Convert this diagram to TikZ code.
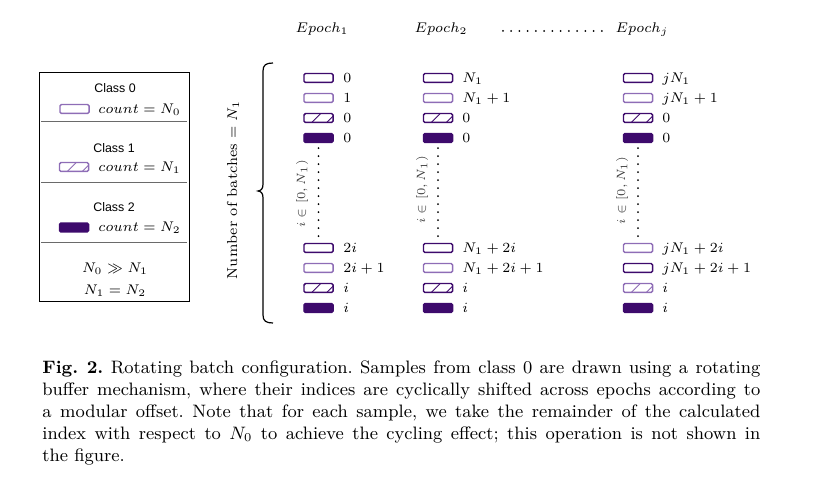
\documentclass[tikz,border=0pt]{standalone}
\usepackage{fontspec}
\newfontfamily\lsans{Liberation Sans}
\definecolor{dpurple}{HTML}{3D0A6C}
\definecolor{lpurple}{HTML}{8E6DB6}
\definecolor{sepgray}{HTML}{6A6A6A}
\newcommand\hatchlines[1]{\foreach \k in {-3.5,4,11.5}{\draw[#1, line width=0.45pt] ([xshift=\k pt]path picture bounding box.south west) -- ++(5.5pt,5.5pt);}}
\newcommand\dfont{\fontsize{7.2}{8.6}\selectfont}
\begin{document}
\begin{tikzpicture}[x=0.5pt,y=-0.5pt,
  sbox/.style={draw, rounded corners=0.7pt, line width=0.65pt, minimum width=14.6pt, minimum height=4.4pt, inner sep=0pt, fill=white},
  c0d/.style={sbox, draw=dpurple},
  c0l/.style={sbox, draw=lpurple},
  c1d/.style={sbox, draw=dpurple, path picture={\hatchlines{dpurple}}},
  c1l/.style={sbox, draw=lpurple, path picture={\hatchlines{lpurple}}},
  c2/.style={sbox, draw=dpurple, fill=dpurple},
  lab/.style={anchor=base west, inner sep=0pt, font=\dfont},
  ctr/.style={anchor=base, inner sep=0pt, font=\dfont},
  cls/.style={anchor=base, inner sep=0pt, font=\lsans\fontsize{6.2}{7.5}\selectfont},
  rng/.style={inner sep=0pt, rotate=90, text=black!75, font=\fontsize{6.2}{7}\selectfont},
  dotline/.style={line width=1pt, line cap=round, dash pattern=on 0pt off 4pt},
  sepline/.style={draw=sepgray, line width=0.6pt}]
\useasboundingbox (0,0) rectangle (816,480);

% legend box
\draw[line width=0.5pt] (39,73) rectangle (189,302);
\draw[sepline] (41,121.5) -- (187,121.5);
\draw[sepline] (41,182.5) -- (187,182.5);
\draw[sepline] (41,242.5) -- (187,242.5);
\node[cls] (lc0) at (115,92.5) {Class 0};
\node[c0l] (lr0) at (74.5,109) {};
\node[lab] (lt0) at (98,113.5) {$count = N_0$};
\node[cls] (lc1) at (114,152.5) {Class 1};
\node[c1l] (lr1) at (74,167) {};
\node[lab] (lt1) at (98,171.5) {$count = N_1$};
\node[cls] (lc2) at (114,211.5) {Class 2};
\node[c2] (lr2) at (74,227.5) {};
\node[lab] (lt2) at (98,232) {$count = N_2$};
\node[ctr] (rel1) at (115,272.5) {$N_0 \gg N_1$};
\node[ctr] (rel2) at (115,294.5) {$N_1 = N_2$};

% brace and its label
\draw[line width=0.6pt] (273,63) .. controls (266,63) and (263,65) .. (263,71)
  -- (263,184) .. controls (263,188.5) and (261.5,190.5) .. (258,191)
  .. controls (261.5,191.5) and (263,193.5) .. (263,198)
  -- (263,315) .. controls (263,321) and (266,323) .. (273,323);
\node[inner sep=0pt, rotate=90, font=\dfont] (nb) at (233,190) {Number of batches $= N_1$};

% epoch headers
\node[ctr] (e1) at (322,32.5) {$Epoch_1$};
\node[ctr] (e2) at (441,32.5) {$Epoch_2$};
\node[ctr] (ej) at (642,32.5) {$Epoch_j$};
\coordinate (hd1) at (503,31);
\coordinate (hd2) at (602,31);
\draw[dotline, dash pattern=on 0pt off 4.12pt] (hd1) -- (hd2);

% column 1
\node[c0d] (a1) at (318.5,78) {};
\node[c0l] (a2) at (318.5,98) {};
\node[c1d] (a3) at (318.5,118) {};
\node[c2]  (a4) at (318.5,138) {};
\node[c0d] (a5) at (318.5,248) {};
\node[c0l] (a6) at (318.5,268) {};
\node[c1d] (a7) at (318.5,288) {};
\node[c2]  (a8) at (318.5,308) {};
\node[lab] at (343,82.5) {$0$};
\node[lab] at (343,102.5) {$1$};
\node[lab] at (343,122.5) {$0$};
\node[lab] at (343,142.5) {$0$};
\node[lab] at (343,252.5) {$2i$};
\node[lab] at (343,272.5) {$2i+1$};
\node[lab] at (343,292.5) {$i$};
\node[lab] at (343,312.5) {$i$};
\draw[dotline] ([yshift=-2.5pt]a4.south) -- ([yshift=2.5pt]a5.north);
\node[rng] (ra) at (302,194) {$i \in [0, N_1)$};

% column 2
\node[c0d] (b1) at (438,78) {};
\node[c0l] (b2) at (438,98) {};
\node[c1d] (b3) at (438,118) {};
\node[c2]  (b4) at (438,138) {};
\node[c0d] (b5) at (438,248) {};
\node[c0l] (b6) at (438,268) {};
\node[c1d] (b7) at (438,288) {};
\node[c2]  (b8) at (438,308) {};
\node[lab] at (462,82.5) {$N_1$};
\node[lab] at (462,102.5) {$N_1+1$};
\node[lab] at (462,122.5) {$0$};
\node[lab] at (462,142.5) {$0$};
\node[lab] at (462,252.5) {$N_1+2i$};
\node[lab] at (462,272.5) {$N_1+2i+1$};
\node[lab] at (462,292.5) {$i$};
\node[lab] at (462,312.5) {$i$};
\draw[dotline] ([yshift=-2.5pt]b4.south) -- ([yshift=2.5pt]b5.north);
\node[rng] (rb) at (422,190) {$i \in [0, N_1)$};

% column j
\node[c0d] (c1) at (638,78) {};
\node[c0l] (c2) at (638,98) {};
\node[c1d] (c3) at (638,118) {};
\node[c2]  (c4) at (638,138) {};
\node[c0l] (c5) at (638,248) {};
\node[c0d] (c6) at (638,268) {};
\node[c1l] (c7) at (638,288) {};
\node[c2]  (c8) at (638,308) {};
\node[lab] at (662,82.5) {$jN_1$};
\node[lab] at (662,102.5) {$jN_1+1$};
\node[lab] at (662,122.5) {$0$};
\node[lab] at (662,142.5) {$0$};
\node[lab] at (662,252.5) {$jN_1+2i$};
\node[lab] at (662,272.5) {$jN_1+2i+1$};
\node[lab] at (662,292.5) {$i$};
\node[lab] at (662,312.5) {$i$};
\draw[dotline] ([yshift=-2.5pt]c4.south) -- ([yshift=2.5pt]c5.north);
\node[rng] (rc) at (622,190.5) {$i \in [0, N_1)$};

% caption
\node[anchor=north west, inner sep=0pt, text width=359pt, align=justify,
      font=\fontsize{9}{11}\selectfont\frenchspacing] (cap) at (42,360)
  {\textbf{Fig.~2.} Rotating batch configuration. Samples from class 0 are drawn using a rotating\linebreak
   buffer mechanism, where their indices are cyclically shifted across epochs according to\linebreak
   a modular offset. Note that for each sample, we take the remainder of the calculated\linebreak
   index with respect to $N_0$ to achieve the cycling effect; this operation is not shown in\linebreak
   the figure.};
\end{tikzpicture}
\end{document}
